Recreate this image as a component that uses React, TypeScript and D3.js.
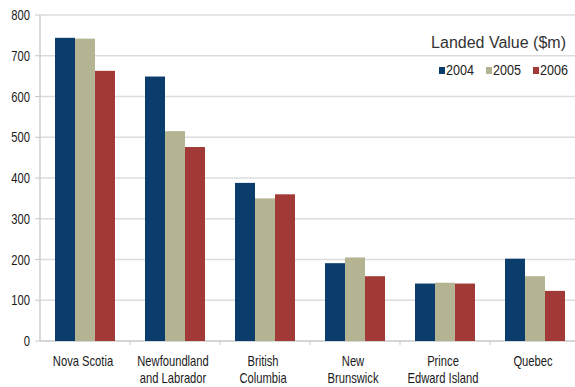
import React from "react";
import * as d3 from "d3";

const categories = [
  ["Nova Scotia"],
  ["Newfoundland", "and Labrador"],
  ["British", "Columbia"],
  ["New", "Brunswick"],
  ["Prince", "Edward Island"],
  ["Quebec"],
];
const categoryKeys = categories.map((c) => c.join(" "));
const seriesNames = ["2004", "2005", "2006"];
const values2004 = [744, 649, 388, 191, 141, 202];
const values2005 = [742, 515, 350, 205, 143, 159];
const values2006 = [663, 476, 360, 159, 141, 123];
const yTicks = [0, 100, 200, 300, 400, 500, 600, 700, 800];
const colors = ["#0b3d6c", "#b4b392", "#a13a36"];
const legendTitle = "Landed Value ($m)";

const W = 575;
const H = 387;
const font = "'Liberation Sans', Arial, sans-serif";
const SQ = 0.8; // horizontal condensing to mimic a narrow face

export default function App() {
  const series = [values2004, values2005, values2006];
  const y = d3.scaleLinear().domain([0, 800]).range([341, 15]);
  const x = d3.scaleBand().domain(categoryKeys).range([40, 580]).paddingInner(1 / 3).paddingOuter(1 / 6);
  const xs = d3.scaleBand().domain(seriesNames).range([0, x.bandwidth()]);
  const step = x.step();

  return (
    <svg width={W} height={H} style={{ position: "absolute", left: 0, top: 0, background: "#fff" }}>
      {yTicks.map((t) => (
        <g key={t}>
          <line x1={40} x2={W} y1={y(t)} y2={y(t)} stroke={t === 0 ? "#c8c8c8" : "#dcdcdc"} strokeWidth={1.3} />
          <line x1={35} x2={40} y1={y(t)} y2={y(t)} stroke="#c8c8c8" strokeWidth={1} />
          <g transform={`translate(30,${y(t) + 5}) scale(${SQ},1)`}>
            <text x={0} y={0} textAnchor="end" fontFamily={font} fontSize={14} fill="#1a1a1a">
              {t}
            </text>
          </g>
        </g>
      ))}
      <line x1={40} x2={40} y1={y(800)} y2={y(0)} stroke="#c8c8c8" strokeWidth={1.3} />
      {categoryKeys.map((c, i) => (
        <line key={"t" + c} x1={40 + step * (i + 1)} x2={40 + step * (i + 1)} y1={y(0)} y2={y(0) + 4} stroke="#c8c8c8" />
      ))}
      {categoryKeys.map((c, i) => (
        <g key={c}>
          {series.map((vals, s) => (
            <rect
              key={s}
              x={(x(c) as number) + (xs(seriesNames[s]) as number)}
              y={y(vals[i])}
              width={xs.bandwidth()}
              height={y(0) - y(vals[i])}
              fill={colors[s]}
            />
          ))}
        </g>
      ))}
      {categories.map((lines, i) => (
        <g
          key={"l" + i}
          transform={`translate(${(x(categoryKeys[i]) as number) + x.bandwidth() / 2 - 2},0) scale(${SQ},1)`}
        >
          <text textAnchor="middle" fontFamily={font} fontSize={14} fill="#1a1a1a">
            {lines.map((ln, j) => (
              <tspan key={j} x={0} y={366 + j * 17}>
                {ln}
              </tspan>
            ))}
          </text>
        </g>
      ))}
      <text x={566} y={48} textAnchor="end" fontFamily={font} fontSize={16} fill="#333">
        {legendTitle}
      </text>
      {seriesNames.map((s, i) => (
        <g key={s} transform={`translate(${439 + i * 47},0)`}>
          <rect x={0} y={67} width={6} height={7} fill={colors[i]} />
          <g transform={`translate(7,75) scale(0.9,1)`}>
            <text x={0} y={0} fontFamily={font} fontSize={14} fill="#222">
              {s}
            </text>
          </g>
        </g>
      ))}
    </svg>
  );
}
